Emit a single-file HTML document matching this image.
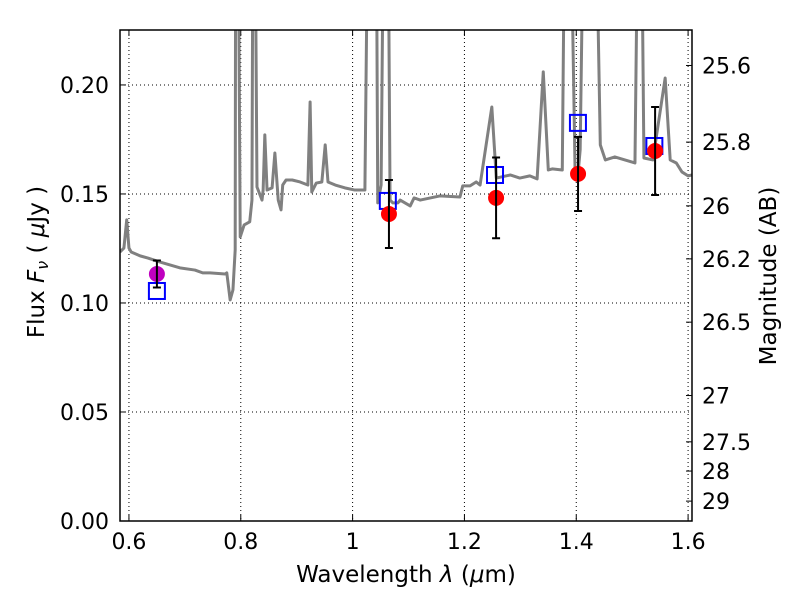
<!DOCTYPE html>
<html><head><meta charset="utf-8"><style>
body{margin:0;background:#fff}
svg{font-family:"DejaVu Sans","Liberation Sans",sans-serif}
</style></head><body>
<svg id="chart" width="800" height="600" viewBox="0 0 800 600"></svg>
<script>
const xTicks=[0.6,0.8,1.0,1.2,1.4,1.6];
const xTickLabels=["0.6","0.8","1","1.2","1.4","1.6"];
const yTicks=[0,0.05,0.10,0.15,0.20];
const yTickLabels=["0.00","0.05","0.10","0.15","0.20"];
const magTicks=[25.6,25.8,26,26.2,26.5,27,27.5,28,29];
const magTickLabels=["25.6","25.8","26","26.2","26.5","27","27.5","28","29"];
const specWave=[0.584,0.591,0.596,0.600,0.604,0.620,0.634,0.655,0.691,0.718,0.732,0.745,0.772,0.775,0.781,0.786,0.790,0.791,0.795,0.799,0.806,0.816,0.820,0.822,0.825,0.829,0.838,0.840,0.843,0.847,0.856,0.861,0.867,0.872,0.875,0.881,0.892,0.906,0.920,0.924,0.927,0.935,0.945,0.951,0.956,0.969,0.986,1.004,1.022,1.028,1.042,1.045,1.051,1.056,1.063,1.067,1.072,1.081,1.085,1.103,1.110,1.121,1.156,1.192,1.197,1.210,1.221,1.228,1.249,1.257,1.282,1.299,1.317,1.330,1.341,1.350,1.357,1.375,1.380,1.389,1.398,1.403,1.407,1.414,1.434,1.443,1.452,1.469,1.487,1.505,1.511,1.516,1.521,1.537,1.559,1.568,1.579,1.589,1.600,1.607];
const specFlux=[0.1234,0.1252,0.1381,0.1252,0.1234,0.1216,0.1206,0.1188,0.1161,0.1151,0.1138,0.1138,0.1133,0.1138,0.1014,0.1060,0.1243,0.30,0.30,0.1303,0.1358,0.1372,0.1472,0.30,0.30,0.1532,0.1472,0.1518,0.1771,0.1518,0.1528,0.1688,0.1472,0.1427,0.1541,0.1564,0.1564,0.1555,0.1541,0.1922,0.1509,0.1550,0.1555,0.1725,0.1555,0.1541,0.1528,0.1518,0.1518,0.30,0.30,0.1459,0.1541,0.30,0.30,0.1472,0.1459,0.1459,0.1472,0.1445,0.1482,0.1472,0.1491,0.1486,0.1537,0.1537,0.1555,0.1541,0.1899,0.1573,0.1587,0.1573,0.1583,0.1569,0.2060,0.1610,0.1615,0.1610,0.30,0.30,0.1587,0.1587,0.1703,0.30,0.30,0.1725,0.1656,0.1670,0.1656,0.1642,0.30,0.30,0.1665,0.1656,0.2032,0.1656,0.1642,0.1601,0.1583,0.1587];
const obsWave=[0.650,1.065,1.2566,1.4032,1.541];
const obsFlux=[0.1133,0.1408,0.1482,0.1592,0.1697];
const obsErr=[0.0062,0.0156,0.0185,0.0170,0.0202];
const obsColor=["#bf00bf","red","red","red","red"];
const modelWave=[0.650,1.063,1.2547,1.403,1.5397];
const modelFlux=[0.1055,0.1468,0.1587,0.1826,0.1720];

const L=120,R=692,T=30,B=521;
const xMin=0.584,xMax=1.607,yMin=0,yMax=0.2252;
const X=v=>L+(v-xMin)/(xMax-xMin)*(R-L);
const Y=v=>B-(v-yMin)/(yMax-yMin)*(B-T);
const svg=document.getElementById('chart');
const NS='http://www.w3.org/2000/svg';
function mk(tag,attrs,parent){const e=document.createElementNS(NS,tag);for(const k in attrs)e.setAttribute(k,attrs[k]);(parent||svg).appendChild(e);return e;}

const defs=mk('defs',{});const cp=mk('clipPath',{id:'clip'},defs);mk('rect',{x:L,y:T,width:R-L,height:B-T},cp);

xTicks.forEach((t,i)=>{
 const g=mk('line',{x1:X(t),x2:X(t),y1:T,y2:B,stroke:'#000','stroke-width':1,'stroke-dasharray':'1,3'});
 
 
 mk('line',{x1:X(t),x2:X(t),y1:B,y2:B-6,stroke:'#000'});
 mk('line',{x1:X(t),x2:X(t),y1:T,y2:T+6,stroke:'#000'});
 const tx=mk('text',{x:X(t),y:B+28,'text-anchor':'middle','font-size':22});
 tx.textContent=xTickLabels[i];
 
 
});
yTicks.forEach((t,i)=>{
 const g=mk('line',{x1:L,x2:R,y1:Y(t),y2:Y(t),stroke:'#000','stroke-width':1,'stroke-dasharray':'1,3'});
 
 
 mk('line',{x1:L,x2:L+6,y1:Y(t),y2:Y(t),stroke:'#000'});
 const tx=mk('text',{x:L-11,y:Y(t)+8,'text-anchor':'end','font-size':22});
 tx.textContent=yTickLabels[i];
 
 
});
magTicks.forEach((m,i)=>{
 const f=Math.pow(10,(23.9-m)/2.5);
 mk('line',{x1:R-6,x2:R,y1:Y(f),y2:Y(f),stroke:'#000'});
 const tx=mk('text',{x:R+10,y:Y(f)+8,'font-size':22});
 tx.textContent=magTickLabels[i];
 
 
});

const gs=mk('g',{'clip-path':'url(#clip)'});
const sp=mk('polyline',{points:specWave.map((w,i)=>X(w)+','+Y(specFlux[i])).join(' '),fill:'none',stroke:'#808080','stroke-width':3,'stroke-linejoin':'round'},gs);



modelWave.forEach((w,i)=>{
 const r=mk('rect',{x:X(w)-8,y:Y(modelFlux[i])-8,width:16,height:16,fill:'none',stroke:'#0000ff','stroke-width':2});
 
 
});
obsWave.forEach((w,i)=>{
 const c=mk('circle',{cx:X(w),cy:Y(obsFlux[i]),r:8,fill:obsColor[i]});
 
 
 const x=X(w),y1=Y(obsFlux[i]+obsErr[i]),y2=Y(obsFlux[i]-obsErr[i]);
 const e=mk('path',{d:`M${x},${y1}V${y2}M${x-4},${y1}H${x+4}M${x-4},${y2}H${x+4}`,stroke:'#000','stroke-width':2,fill:'none'});
 
 
});

const fr=mk('rect',{x:L,y:T,width:R-L,height:B-T,fill:'none',stroke:'#000','stroke-width':1.5});



const xl=mk('text',{x:406,y:582,'text-anchor':'middle','font-size':23});
xl.innerHTML='Wavelength  <tspan font-style="italic">λ</tspan> (<tspan font-style="italic">μ</tspan>m)';


const yl=mk('text',{x:0,y:0,'text-anchor':'middle','font-size':23,transform:'translate(44,262) rotate(-90)'});
yl.innerHTML='Flux  <tspan font-style="italic">F</tspan><tspan font-style="italic" font-size="16" dy="4">ν</tspan><tspan dy="-4">  (  </tspan><tspan font-style="italic">μ</tspan>Jy )';


const rl=mk('text',{x:0,y:0,'text-anchor':'middle','font-size':23,transform:'translate(776,276) rotate(-90)'});
rl.textContent='Magnitude (AB)';


</script>
</body></html>
